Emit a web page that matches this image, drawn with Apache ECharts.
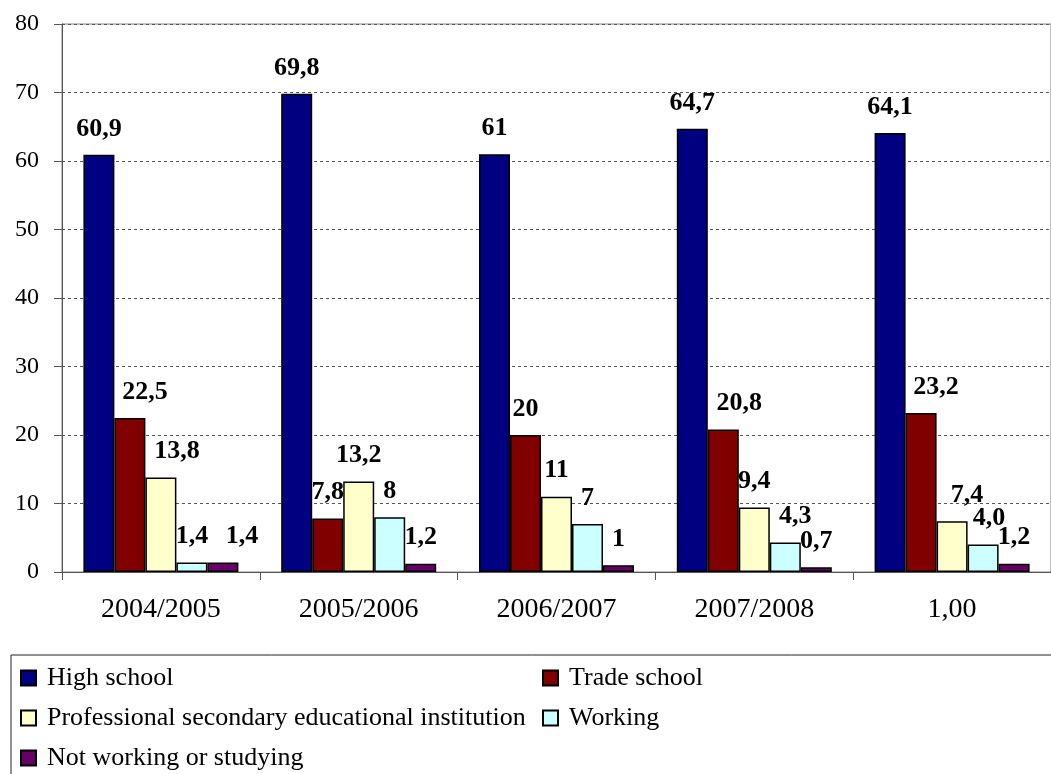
<!DOCTYPE html>
<html>
<head>
<meta charset="utf-8">
<script src="https://cdn.jsdelivr.net/npm/echarts@6/dist/echarts.min.js"></script>
<style>html,body{margin:0;padding:0;background:#fff;}#c{width:1051px;height:774px;}</style>
</head>
<body>
<div id="c"></div>
<script>
var categories = ['2004/2005', '2005/2006', '2006/2007', '2007/2008', '1,00'];
var yTicks = [0, 10, 20, 30, 40, 50, 60, 70, 80];
var seriesNames = ['High school', 'Trade school', 'Professional secondary educational institution', 'Working', 'Not working or studying'];
var highSchool = [60.9, 69.8, 61, 64.7, 64.1];
var tradeSchool = [22.5, 7.8, 20, 20.8, 23.2];
var professional = [13.8, 13.2, 11, 9.4, 7.4];
var working = [1.4, 8, 7, 4.3, 4.0];
var notWorking = [1.4, 1.2, 1, 0.7, 1.2];
var highSchoolLabels = ['60,9', '69,8', '61', '64,7', '64,1'];
var tradeSchoolLabels = ['22,5', '7,8', '20', '20,8', '23,2'];
var professionalLabels = ['13,8', '13,2', '11', '9,4', '7,4'];
var workingLabels = ['1,4', '8', '7', '4,3', '4,0'];
var notWorkingLabels = ['1,4', '1,2', '1', '0,7', '1,2'];

// label horizontal shifts (styling, as placed in the reference)
var labelShift = [
  [0, 0, 0, 0, 0],
  [15, 0, 0, 16, 15],
  [16, 0, 0, 0, 15],
  [0, 0, 0, 10, 6],
  [19, 0, 0, 0, 0]
];
var colors = ['#000080', '#800000', '#FFFFCC', '#CCFFFF', '#660066'];
var values = [highSchool, tradeSchool, professional, working, notWorking];
var labels = [highSchoolLabels, tradeSchoolLabels, professionalLabels, workingLabels, notWorkingLabels];

var font = 'Liberation Serif, Times New Roman, serif';
var series = values.map(function (vals, si) {
  return {
    name: seriesNames[si],
    type: 'bar',
    barWidth: 31,
    barGap: '0%',
    itemStyle: { color: colors[si], borderColor: '#000', borderWidth: 1.5 },
    data: vals.map(function (v, i) {
      return {
        value: v,
        label: { offset: [labelShift[si][i], 0] }
      };
    }),
    label: {
      show: true,
      position: 'top',
      distance: 13,
      fontFamily: font,
      fontWeight: 'bold',
      fontSize: 26,
      color: '#000',
      formatter: (function (s) { return function (p) { return labels[s][p.dataIndex]; }; })(si)
    }
  };
});

function legendFor(names, left, top) {
  return {
    data: names,
    orient: 'vertical',
    left: left,
    top: top,
    padding: 0,
    itemWidth: 15,
    itemHeight: 15,
    itemGap: 14,
    icon: 'rect',
    textStyle: { fontFamily: font, fontSize: 26, color: '#000', padding: [0, 0, 0, 6] }
  };
}

var chart = echarts.init(document.getElementById('c'));
chart.setOption({
  animation: false,
  backgroundColor: '#fff',
  grid: { left: 62, top: 24, right: -11, bottom: 202, show: true, borderColor: '#808080', borderWidth: 1 },
  xAxis: {
    type: 'category',
    data: categories,
    axisLine: { lineStyle: { color: '#555', width: 1 } },
    axisTick: { show: true, length: 8, lineStyle: { color: '#555' } },
    axisLabel: { fontFamily: font, fontSize: 28, color: '#000', margin: 24 }
  },
  yAxis: {
    type: 'value',
    min: yTicks[0],
    max: yTicks[yTicks.length - 1],
    interval: yTicks[1] - yTicks[0],
    axisLine: { show: true, lineStyle: { color: '#555', width: 1 } },
    axisTick: { show: true, length: 8, lineStyle: { color: '#555' } },
    axisLabel: { fontFamily: font, fontSize: 24, color: '#000', margin: 23 },
    splitLine: { show: true, lineStyle: { color: '#555', type: [3, 3], width: 1 } }
  },
  legend: [
    legendFor([seriesNames[0]], 20, 665),
    legendFor([seriesNames[1]], 542, 665),
    legendFor([seriesNames[2]], 20, 705),
    legendFor([seriesNames[3]], 542, 705),
    legendFor([seriesNames[4]], 20, 745)
  ],
  graphic: [
    {
      type: 'rect',
      shape: { x: 11, y: 655, width: 1100, height: 200 },
      style: { fill: 'none', stroke: '#222', lineWidth: 1 },
      silent: true
    }
  ],
  series: series
});
</script>
</body>
</html>
